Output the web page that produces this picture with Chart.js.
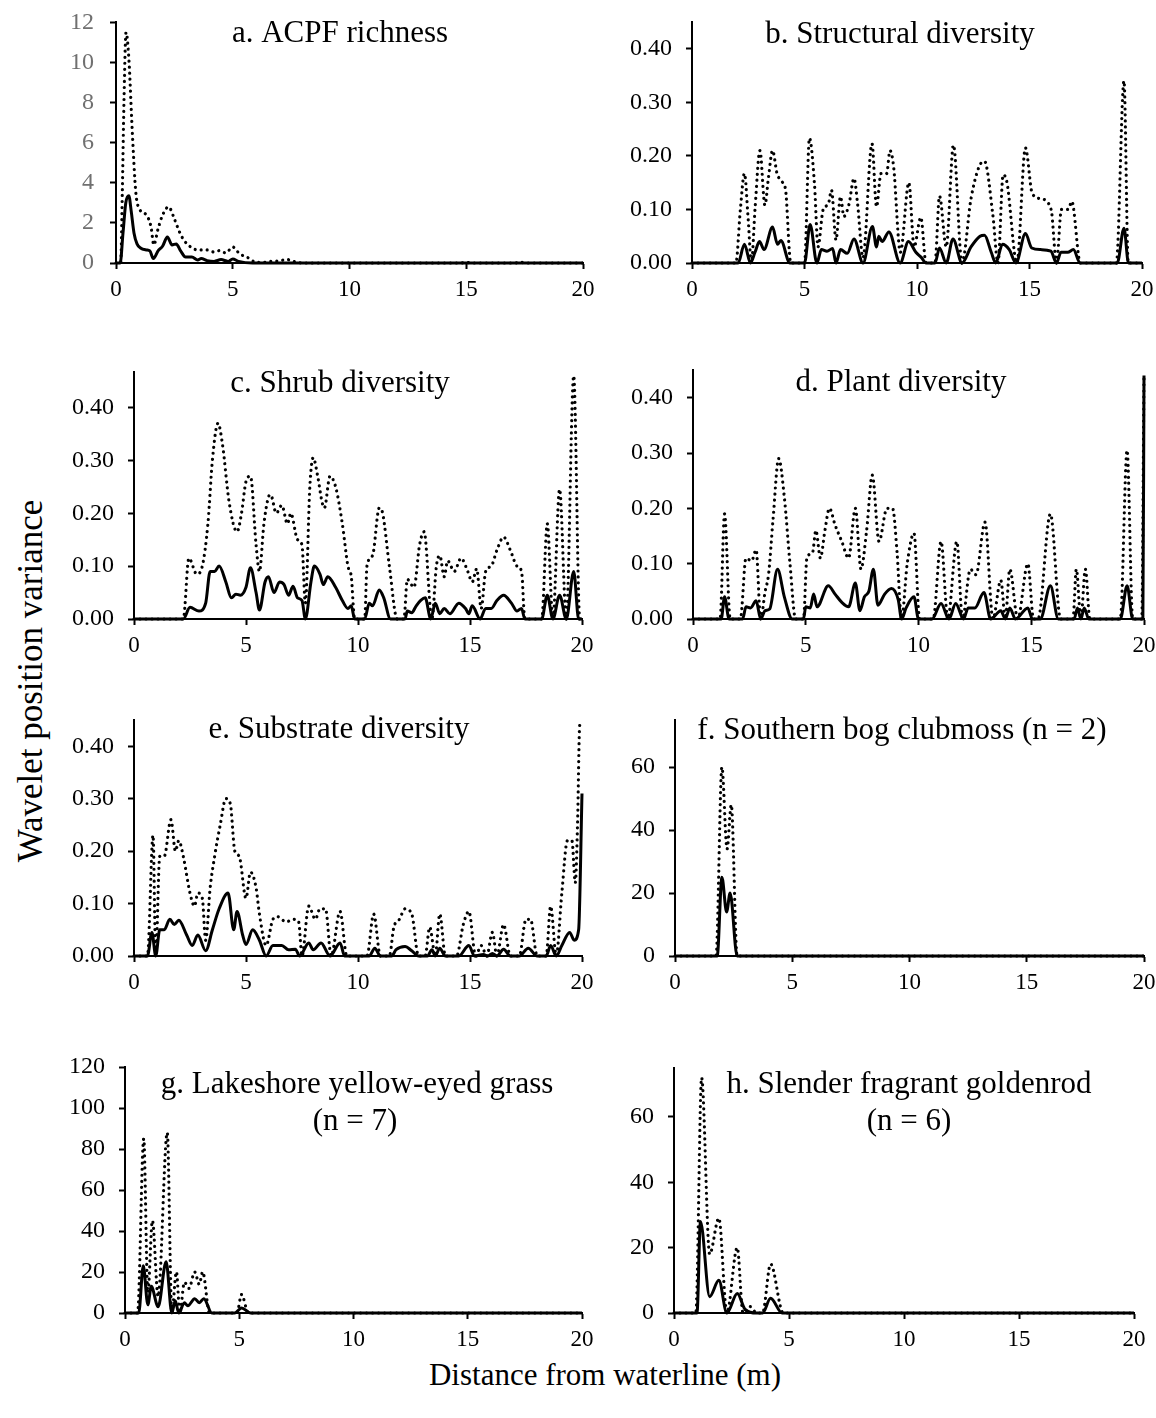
<!DOCTYPE html>
<html>
<head>
<meta charset="utf-8">
<title>Wavelet position variance</title>
<script src="https://cdn.jsdelivr.net/npm/chart.js@4.4.1/dist/chart.umd.min.js"></script>
<style>
  body { margin: 0; background: #fff; }
  #fig { position: relative; width: 1156px; height: 1418px; overflow: hidden; }
  .panel { position: absolute; }
  .axtitle { position: absolute; font-family: "Liberation Serif", "Times New Roman", serif; color: #000; white-space: nowrap; line-height: 1; }
  #ytitle { left: 30px; top: 681px; font-size: 35px; transform: translate(-50%, -50%) rotate(-90deg); }
  #xtitle { left: 605px; top: 1374px; font-size: 31px; transform: translate(-50%, -50%); }
</style>
</head>
<body>
<div id="fig">
  <div class="axtitle" id="ytitle">Wavelet position variance</div>
  <div class="axtitle" id="xtitle">Distance from waterline (m)</div>
</div>
<script>
// Wavelet position variance along the transect, as [distance (m), variance] pairs.
// "Dotted" and "solid" are the two variance curves drawn in every panel.

var distTicks = [0, 5, 10, 15, 20];

var acpfDotted = [[0,0],[0.2,0],[0.27,3.5],[0.34,8],[0.43,11.5],[0.55,10.2],[0.7,6.5],[0.85,3.5],[1.0,2.7],[1.3,2.4],[1.5,1.8],[1.62,0.9],[1.8,1.7],[2.0,2.4],[2.25,2.8],[2.5,2.2],[2.7,1.6],[2.9,1.15],[3.2,0.8],[3.5,0.65],[3.9,0.65],[4.2,0.55],[4.45,0.62],[4.7,0.5],[5.0,0.8],[5.3,0.45],[5.6,0.3],[5.9,0.08],[6.3,0.02],[6.6,0.08],[7.0,0.1],[7.3,0.18],[7.6,0.08],[8.0,0],[14.8,0],[15.0,0.04],[15.2,0],[17.1,0],[17.3,0.05],[17.5,0],[20,0]];
var acpfSolid = [[0,0],[0.18,0],[0.3,1.5],[0.42,3.0],[0.55,3.35],[0.65,2.6],[0.77,1.5],[0.9,0.95],[1.05,0.75],[1.3,0.65],[1.45,0.6],[1.6,0.22],[1.8,0.6],[2.0,0.85],[2.2,1.3],[2.4,0.9],[2.58,0.95],[2.76,0.62],[2.98,0.3],[3.25,0.3],[3.5,0.15],[3.65,0.22],[3.9,0.12],[4.2,0.08],[4.5,0.17],[4.8,0.08],[5.0,0.2],[5.25,0.08],[5.85,0],[20,0]];

var structDotted = [[0,0],[1.95,0],[2.15,0.1],[2.33,0.167],[2.5,0.08],[2.64,0],[2.8,0.1],[3.02,0.21],[3.24,0.108],[3.4,0.16],[3.58,0.21],[3.78,0.167],[4.0,0.152],[4.16,0.136],[4.39,0],[5.0,0],[5.22,0.233],[5.45,0.143],[5.6,0.03],[5.83,0.1],[6.06,0.11],[6.2,0.136],[6.4,0.043],[6.6,0.124],[6.75,0.087],[6.98,0.11],[7.2,0.158],[7.36,0.11],[7.6,0.01],[8.0,0.223],[8.2,0.105],[8.4,0.167],[8.65,0.167],[8.8,0.21],[8.96,0.18],[9.26,0.02],[9.64,0.15],[9.87,0.03],[10.17,0.085],[10.4,0],[10.8,0],[11.0,0.125],[11.3,0.03],[11.62,0.22],[12.0,0],[12.4,0.12],[12.76,0.18],[13.0,0.19],[13.37,0.09],[13.6,0],[13.83,0.165],[14.0,0.15],[14.44,0],[14.82,0.215],[15.12,0.13],[15.5,0.12],[15.96,0.1],[16.2,0],[16.42,0.1],[16.72,0.1],[16.88,0.115],[17.26,0],[18.86,0],[19.2,0.34],[19.39,0],[20,0]];
var structSolid = [[0,0],[2.05,0],[2.33,0.035],[2.6,0],[2.8,0.02],[3.0,0.04],[3.2,0.025],[3.58,0.067],[3.8,0.035],[3.95,0.042],[4.35,0],[5.0,0],[5.25,0.072],[5.55,0],[5.75,0.025],[6.0,0.022],[6.25,0.027],[6.4,0],[6.6,0.025],[6.9,0.018],[7.2,0.045],[7.6,0],[8.02,0.068],[8.2,0.03],[8.3,0.05],[8.45,0.04],[8.75,0.058],[9.25,0],[9.62,0.04],[9.95,0.02],[10.2,0.01],[10.4,0],[10.8,0],[11.0,0.028],[11.3,0],[11.6,0.045],[12.0,0],[12.4,0.03],[12.8,0.05],[13.0,0.052],[13.3,0.02],[13.5,0],[13.8,0.035],[14.1,0.025],[14.4,0],[14.82,0.055],[15.1,0.028],[15.5,0.025],[15.95,0.022],[16.2,0],[16.4,0.02],[16.7,0.02],[16.95,0.025],[17.25,0],[18.9,0],[19.2,0.065],[19.4,0],[20,0]];

var shrubDotted = [[0,0],[2.2,0],[2.45,0.115],[2.8,0.085],[3.05,0.1],[3.3,0.18],[3.5,0.3],[3.75,0.37],[3.95,0.33],[4.25,0.22],[4.6,0.165],[4.8,0.2],[5.0,0.26],[5.2,0.27],[5.45,0.14],[5.6,0.09],[5.8,0.18],[6.0,0.23],[6.1,0.235],[6.35,0.2],[6.6,0.215],[6.85,0.18],[7.0,0.2],[7.3,0.15],[7.5,0.14],[7.65,0.03],[7.85,0.25],[8.0,0.305],[8.2,0.27],[8.4,0.22],[8.5,0.21],[8.75,0.27],[9.0,0.25],[9.3,0.18],[9.55,0.1],[9.7,0.08],[9.85,0],[10.3,0],[10.4,0.1],[10.65,0.12],[10.95,0.21],[11.1,0.2],[11.4,0.1],[11.75,0],[12.05,0],[12.2,0.075],[12.5,0.06],[12.75,0.14],[12.95,0.165],[13.3,0],[13.5,0.1],[13.65,0.12],[13.85,0.08],[14.0,0.11],[14.3,0.09],[14.6,0.115],[14.9,0.09],[15.1,0.07],[15.3,0.095],[15.5,0.02],[15.7,0.09],[15.95,0.1],[16.2,0.13],[16.5,0.155],[16.8,0.13],[17.1,0.1],[17.3,0.09],[17.45,0],[18.2,0],[18.45,0.18],[18.7,0],[19.0,0.245],[19.3,0],[19.63,0.46],[19.9,0],[20,0]];
var shrubSolid = [[0,0],[2.2,0],[2.5,0.022],[2.9,0.015],[3.2,0.03],[3.4,0.09],[3.6,0.09],[3.8,0.1],[4.1,0.07],[4.35,0.04],[4.55,0.047],[4.75,0.045],[5.0,0.06],[5.2,0.097],[5.45,0.05],[5.6,0.017],[5.85,0.07],[6.0,0.08],[6.25,0.05],[6.5,0.07],[6.7,0.065],[6.9,0.045],[7.1,0.062],[7.3,0.04],[7.5,0.035],[7.65,0],[7.9,0.07],[8.05,0.1],[8.3,0.085],[8.45,0.065],[8.65,0.08],[9.0,0.06],[9.3,0.035],[9.55,0.02],[9.7,0.025],[9.85,0],[10.3,0],[10.5,0.03],[10.65,0.025],[10.95,0.055],[11.15,0.04],[11.45,0],[12.1,0],[12.2,0.015],[12.4,0.012],[12.6,0.025],[12.8,0.035],[13.0,0.04],[13.25,0],[13.45,0.03],[13.65,0.01],[13.85,0.02],[14.1,0.01],[14.5,0.03],[14.8,0.02],[14.95,0.01],[15.1,0.025],[15.45,0],[15.7,0.02],[15.95,0.02],[16.2,0.035],[16.5,0.045],[16.85,0.03],[17.1,0.015],[17.3,0.02],[17.45,0],[18.2,0],[18.45,0.045],[18.7,0],[19.0,0.045],[19.3,0],[19.63,0.09],[19.85,0],[20,0]];

var plantDotted = [[0,0],[1.2,0],[1.4,0.19],[1.65,0],[2.1,0],[2.35,0.11],[2.6,0.105],[2.8,0.125],[3.0,0],[3.2,0.05],[3.35,0.08],[3.55,0.18],[3.8,0.29],[4.05,0.22],[4.3,0.1],[4.55,0],[4.9,0],[5.05,0.11],[5.3,0.12],[5.45,0.16],[5.65,0.11],[5.85,0.16],[6.05,0.2],[6.3,0.17],[6.6,0.14],[6.9,0.11],[7.2,0.2],[7.45,0.09],[7.7,0.16],[7.95,0.26],[8.25,0.14],[8.6,0.2],[8.85,0.2],[9.05,0.12],[9.25,0],[9.5,0.1],[9.8,0.155],[10.05,0],[10.65,0],[11.0,0.14],[11.3,0],[11.7,0.14],[11.95,0],[12.3,0.09],[12.55,0.08],[12.95,0.175],[13.3,0],[13.65,0.07],[13.85,0],[14.05,0.09],[14.4,0],[14.85,0.1],[15.1,0],[15.3,0],[15.85,0.19],[16.3,0],[16.85,0],[17.0,0.09],[17.2,0],[17.4,0.09],[17.6,0],[18.95,0],[19.25,0.305],[19.5,0],[19.9,0],[20,0.44]];
var plantSolid = [[0,0],[1.25,0],[1.4,0.04],[1.6,0],[2.2,0],[2.35,0.022],[2.55,0.02],[2.8,0.033],[3.0,0],[3.2,0.015],[3.4,0.018],[3.75,0.09],[4.05,0.04],[4.4,0],[4.9,0],[5.0,0.022],[5.2,0.02],[5.35,0.045],[5.5,0.022],[6.0,0.06],[6.3,0.045],[6.6,0.03],[6.9,0.022],[7.2,0.065],[7.4,0.015],[7.6,0.04],[7.8,0.05],[8.0,0.09],[8.2,0.025],[8.5,0.045],[8.8,0.055],[9.1,0.035],[9.25,0],[9.45,0.02],[9.8,0.04],[10.0,0],[10.6,0],[11.0,0.028],[11.35,0],[11.65,0.028],[12.0,0],[12.2,0.02],[12.5,0.02],[12.9,0.048],[13.2,0],[13.65,0.015],[13.85,0],[14.05,0.02],[14.3,0],[14.85,0.02],[15.05,0],[15.4,0],[15.85,0.06],[16.2,0],[16.9,0],[17.05,0.02],[17.2,0],[17.35,0.02],[17.55,0],[18.95,0],[19.25,0.06],[19.5,0],[19.95,0],[20,0.44]];

var substrDotted = [[0,0],[0.6,0],[0.85,0.23],[0.97,0],[1.15,0.19],[1.35,0.19],[1.65,0.26],[1.85,0.2],[2.0,0.22],[2.2,0.19],[2.5,0.12],[2.7,0.095],[2.85,0.12],[3.05,0.11],[3.2,0.03],[3.4,0.13],[3.6,0.19],[3.85,0.25],[4.1,0.3],[4.3,0.29],[4.5,0.2],[4.7,0.19],[5.0,0.11],[5.2,0.16],[5.45,0.13],[5.6,0.08],[5.9,0.02],[6.2,0.07],[6.4,0.075],[6.8,0.065],[7.1,0.07],[7.35,0.065],[7.5,0],[7.8,0.095],[8.1,0.07],[8.3,0.09],[8.55,0.09],[8.8,0],[9.2,0.085],[9.5,0],[10.4,0],[10.7,0.08],[11.0,0],[11.4,0],[11.6,0.055],[11.85,0.07],[12.1,0.09],[12.4,0.08],[12.7,0],[13.0,0],[13.2,0.055],[13.45,0],[13.65,0.08],[13.9,0],[14.4,0],[14.7,0.06],[14.95,0.085],[15.25,0],[15.5,0.02],[15.75,0],[16.0,0.045],[16.2,0],[16.5,0.06],[16.8,0],[17.2,0],[17.5,0.07],[17.7,0.07],[18.0,0],[18.4,0],[18.6,0.095],[18.85,0],[19.1,0.12],[19.35,0.22],[19.55,0.22],[19.7,0.14],[19.8,0.25],[19.9,0.44],[20,0.44]];
var substrSolid = [[0,0],[0.6,0],[0.8,0.045],[0.97,0],[1.15,0.05],[1.35,0.05],[1.6,0.07],[1.8,0.06],[2.0,0.068],[2.35,0.04],[2.6,0.02],[2.85,0.04],[3.2,0.01],[3.5,0.05],[3.8,0.09],[4.2,0.12],[4.45,0.05],[4.6,0.085],[4.85,0.04],[5.0,0.022],[5.3,0.05],[5.6,0.03],[5.9,0],[6.2,0.02],[6.6,0.02],[6.9,0.012],[7.2,0.013],[7.4,0],[7.8,0.025],[8.0,0.012],[8.35,0.025],[8.75,0],[9.2,0.025],[9.4,0],[10.5,0],[10.75,0.015],[11.0,0],[11.5,0],[11.7,0.012],[12.1,0.018],[12.4,0.01],[12.7,0],[13.1,0],[13.3,0.012],[13.45,0],[13.65,0.015],[13.9,0],[14.5,0],[14.95,0.02],[15.2,0],[15.6,0.003],[15.8,0],[16.0,0.005],[16.2,0],[16.5,0.013],[16.8,0],[17.2,0],[17.6,0.015],[18.0,0],[18.4,0],[18.6,0.02],[18.85,0],[19.1,0.02],[19.45,0.045],[19.65,0.03],[19.85,0.05],[20,0.31]];

var clubmossDotted = [[0,0],[1.75,0],[2.0,60],[2.22,34],[2.4,48],[2.65,0],[20,0]];
var clubmossSolid = [[0,0],[1.8,0],[2.0,25],[2.2,14],[2.35,20],[2.65,0],[20,0]];

var grassDotted = [[0,0],[0.55,0],[0.82,85],[1.0,10],[1.2,45],[1.45,8],[1.85,88],[2.05,0],[2.25,20],[2.4,0],[2.6,15],[2.8,12],[3.05,20],[3.25,14],[3.4,20],[3.7,0],[4.9,0],[5.1,9],[5.4,0],[20,0]];
var grassSolid = [[0,0],[0.6,0],[0.8,23],[1.0,4],[1.15,13],[1.45,3],[1.8,25],[2.05,0],[2.2,6],[2.35,0],[2.6,5],[2.75,3.5],[3.05,7],[3.25,5],[3.45,7],[3.8,0],[4.8,0],[5.1,2.5],[5.5,0],[20,0]];

var goldenrodDotted = [[0,0],[0.95,0],[1.2,72],[1.55,18],[1.95,29],[2.3,0],[2.75,20],[3.0,0],[3.3,2],[3.6,0],[3.85,0],[4.2,15],[4.75,0],[20,0]];
var goldenrodSolid = [[0,0],[1.0,0],[1.15,28],[1.55,5],[1.95,10],[2.3,0],[2.75,6],[3.1,1],[3.6,0],[3.85,0],[4.2,4.5],[4.7,0],[20,0]];

// panel placement on the page (plot area edges in px) and axis setup
var panels = [
  { dotted: acpfDotted, solid: acpfSolid, left: 116, right: 583, top: 22, zero: 263, yMax: 12, yStep: 2, dec: 0,
    yColor: '#707070', yPad: 16, title: [['a. ACPF richness', 340, 42]] },
  { dotted: structDotted, solid: structSolid, left: 692, right: 1142, top: 22, zero: 263, yMax: 0.45, yStep: 0.1, dec: 2,
    title: [['b. Structural diversity', 900, 43]] },
  { dotted: shrubDotted, solid: shrubSolid, left: 134, right: 582, top: 372, zero: 619, yMax: 0.467, yStep: 0.1, dec: 2,
    title: [['c. Shrub diversity', 340, 392]] },
  { dotted: plantDotted, solid: plantSolid, left: 693, right: 1144, top: 370, zero: 619, yMax: 0.45, yStep: 0.1, dec: 2,
    title: [['d. Plant diversity', 901, 391]] },
  { dotted: substrDotted, solid: substrSolid, left: 134, right: 582, top: 720, zero: 956, yMax: 0.45, yStep: 0.1, dec: 2,
    title: [['e. Substrate diversity', 339, 738]] },
  { dotted: clubmossDotted, solid: clubmossSolid, left: 675, right: 1144, top: 720, zero: 956, yMax: 75, yStep: 20, dec: 0,
    title: [['f. Southern bog clubmoss (n = 2)', 902, 739]] },
  { dotted: grassDotted, solid: grassSolid, left: 125, right: 582, top: 1067, zero: 1313, yMax: 120, yStep: 20, dec: 0,
    title: [['g. Lakeshore yellow-eyed grass', 357, 1093], ['(n = 7)', 355, 1130]] },
  { dotted: goldenrodDotted, solid: goldenrodSolid, left: 674, right: 1134, top: 1068, zero: 1313, yMax: 75, yStep: 20, dec: 0,
    title: [['h. Slender fragrant goldenrod', 909, 1093], ['(n = 6)', 909, 1130]] }
];

var SERIF = "'Liberation Serif', 'Times New Roman', serif";
var Y_W = 100, X_H = 60, PAD_T = 30, PAD_R = 25;

// draws the panel heading inside the plot
var panelTitle = {
  id: 'panelTitle',
  afterDraw: function(chart, args, opts) {
    var ctx = chart.ctx;
    ctx.save();
    ctx.font = '31px ' + SERIF;
    ctx.fillStyle = '#000';
    ctx.textAlign = 'center';
    ctx.textBaseline = 'alphabetic';
    opts.lines.forEach(function(l) {
      ctx.fillText(l[0], l[1] - opts.ox, l[2] - opts.oy);
    });
    ctx.restore();
  }
};

function toPoints(arr) {
  return arr.map(function(p) { return { x: p[0], y: p[1] }; });
}

var fig = document.getElementById('fig');

panels.forEach(function(p) {
  var w = Y_W + (p.right - p.left) + PAD_R;
  var h = PAD_T + (p.zero - p.top) + X_H;
  var ox = p.left - Y_W, oy = p.top - PAD_T;

  var box = document.createElement('div');
  box.className = 'panel';
  box.style.left = ox + 'px';
  box.style.top = oy + 'px';
  var cv = document.createElement('canvas');
  cv.width = w;
  cv.height = h;
  box.appendChild(cv);
  fig.appendChild(box);

  var axisGrid = { drawOnChartArea: false, drawTicks: true, tickLength: 6, tickColor: '#000', tickWidth: 2 };
  var axisBorder = { color: '#000', width: 2 };

  new Chart(cv.getContext('2d'), {
    type: 'line',
    data: {
      datasets: [
        { data: toPoints(p.dotted), borderColor: '#000', borderWidth: 3.2, borderDash: [0.01, 6],
          borderCapStyle: 'round', pointRadius: 0, cubicInterpolationMode: 'monotone', fill: false, clip: false },
        { data: toPoints(p.solid), borderColor: '#000', borderWidth: 3, borderJoinStyle: 'round',
          pointRadius: 0, cubicInterpolationMode: 'monotone', fill: false, clip: false }
      ]
    },
    options: {
      responsive: false,
      animation: false,
      devicePixelRatio: 1,
      layout: { padding: { top: PAD_T, right: PAD_R, left: 0, bottom: 0 } },
      plugins: {
        legend: { display: false },
        tooltip: { enabled: false },
        panelTitle: { lines: p.title, ox: ox, oy: oy }
      },
      scales: {
        x: {
          type: 'linear', min: 0, max: 20,
          afterBuildTicks: function(s) { s.ticks = distTicks.map(function(v) { return { value: v }; }); },
          ticks: { font: { family: SERIF, size: 23 }, color: '#000', padding: 7, maxRotation: 0, autoSkip: false },
          grid: axisGrid, border: axisBorder,
          afterFit: function(s) { s.height = X_H; }
        },
        y: {
          min: 0, max: p.yMax,
          ticks: { stepSize: p.yStep, includeBounds: false, font: { family: SERIF, size: 24 }, color: p.yColor || '#000',
            padding: p.yPad || 14, callback: function(v) { return v.toFixed(p.dec); } },
          grid: axisGrid, border: axisBorder,
          afterFit: function(s) { s.width = Y_W; }
        }
      }
    },
    plugins: [panelTitle]
  });
});
</script>
</body>
</html>
